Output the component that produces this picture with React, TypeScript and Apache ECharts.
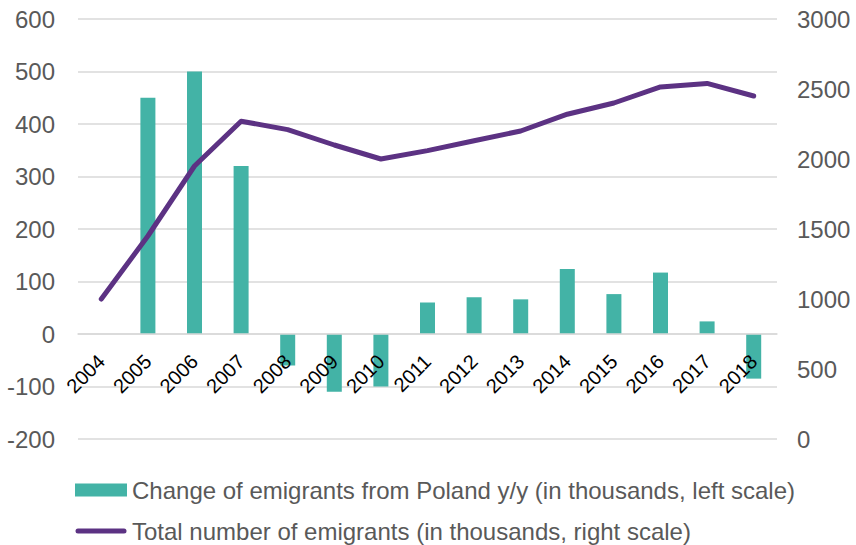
import React, { useEffect, useRef } from "react";
import * as echarts from "echarts";

const years = ["2004", "2005", "2006", "2007", "2008", "2009", "2010", "2011", "2012", "2013", "2014", "2015", "2016", "2017", "2018"];
const changeYY = [null, 450, 500, 320, -60, -110, -100, 60, 70, 66, 124, 76, 117, 24, -85];
const totalEmigrants = [1000, 1450, 1950, 2270, 2210, 2100, 2000, 2060, 2130, 2200, 2320, 2400, 2515, 2540, 2450];
const leftTicks = { min: -200, max: 600, interval: 100 };
const rightTicks = { min: 0, max: 3000, interval: 500 };
const barName = "Change of emigrants from Poland y/y (in thousands, left scale)";
const lineName = "Total number of emigrants (in thousands, right scale)";

const FONT = "'Liberation Sans', Arial, sans-serif";
const LINE_ICON = "path://M0,0 M52,13 M3,4 L49,4 A2.5,2.5 0 0 1 49,9 L3,9 A2.5,2.5 0 0 1 3,4 Z";

export default function App() {
  const ref = useRef<HTMLDivElement>(null);
  useEffect(() => {
    if (!ref.current) return;
    const chart = echarts.init(ref.current, null, { renderer: "svg" });
    const gridTop = 19;
    const gridBottom = 106;
    const plotH = 545 - gridTop - gridBottom;
    const zeroOffset = -(plotH * (0 - leftTicks.min)) / (leftTicks.max - leftTicks.min);
    chart.setOption({
      animation: false,
      backgroundColor: "#ffffff",
      textStyle: { fontFamily: FONT },
      grid: { left: 78, right: 79, top: gridTop, bottom: gridBottom, containLabel: false },
      legend: {
        orient: "vertical",
        left: 75,
        top: 478,
        padding: 0,
        itemWidth: 52,
        itemHeight: 13,
        itemGap: 17,
        textStyle: { color: "#595959", fontSize: 24, fontFamily: FONT },
        data: [
          { name: barName, icon: "rect" },
          { name: lineName, icon: LINE_ICON },
        ],
      },
      xAxis: {
        type: "category",
        data: years,
        position: "bottom",
        offset: zeroOffset,
        z: 5,
        axisLine: { onZero: false, lineStyle: { color: "#d9d9d9", width: 1.5 } },
        axisTick: { show: false },
        axisLabel: { rotate: 45, color: "#000000", fontSize: 20, margin: 24, fontFamily: FONT },
      },
      yAxis: [
        {
          type: "value",
          min: leftTicks.min,
          max: leftTicks.max,
          interval: leftTicks.interval,
          axisLine: { show: false },
          axisTick: { show: false },
          splitLine: { lineStyle: { color: "#d9d9d9", width: 1.5 } },
          axisLabel: { color: "#595959", fontSize: 24, margin: 23, fontFamily: FONT },
        },
        {
          type: "value",
          min: rightTicks.min,
          max: rightTicks.max,
          interval: rightTicks.interval,
          axisLine: { show: false },
          axisTick: { show: false },
          splitLine: { show: false },
          axisLabel: { color: "#595959", fontSize: 24, margin: 20, fontFamily: FONT, formatter: (v: number) => String(v) },
        },
      ],
      series: [
        {
          name: barName,
          type: "bar",
          yAxisIndex: 0,
          data: changeYY,
          barWidth: 15,
          itemStyle: { color: "#43b3a6" },
        },
        {
          name: lineName,
          type: "line",
          yAxisIndex: 1,
          data: totalEmigrants,
          symbol: "none",
          lineStyle: { color: "#5c3283", width: 5, cap: "round", join: "round" },
          itemStyle: { color: "#5c3283" },
        },
      ],
    });
    return () => chart.dispose();
  }, []);
  return <div ref={ref} style={{ width: 856, height: 545, position: "absolute", left: 0, top: 0 }} />;
}
